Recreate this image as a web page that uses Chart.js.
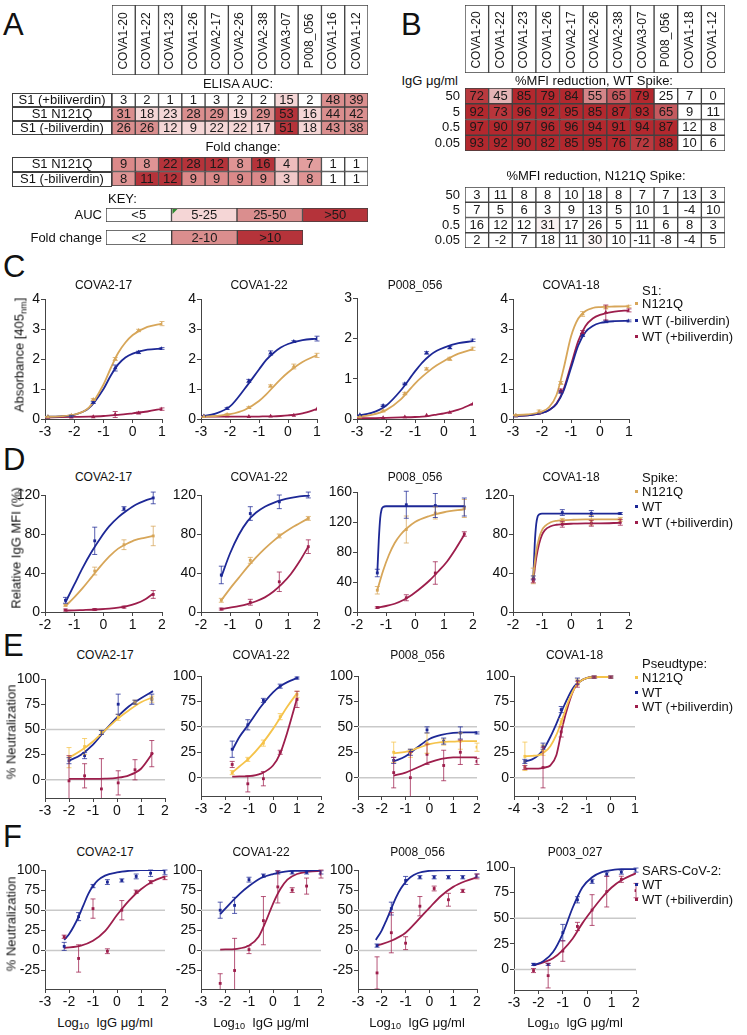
<!DOCTYPE html>
<html><head><meta charset="utf-8">
<script src="https://cdn.jsdelivr.net/npm/chart.js@4.4.1/dist/chart.umd.min.js"></script>
<style>
body{margin:0;background:#fff;}
#root{position:relative;width:747px;height:1035px;overflow:hidden;font-family:'Liberation Sans',Arial,sans-serif;color:#111;background:#fff;}
.t{position:absolute;white-space:nowrap;line-height:1;}
canvas{position:absolute;}
sub{font-size:70%;vertical-align:-0.3em;line-height:0;}
</style></head><body><div id="root"></div>
<script>
// ---------------- DATA ----------------
// Panel A
const A_antibodies = ['COVA1-20','COVA1-22','COVA1-23','COVA1-26','COVA2-17','COVA2-26','COVA2-38','COVA3-07','P008_056','COVA1-16','COVA1-12'];
const A_aucRows = ['S1 (+biliverdin)','S1 N121Q','S1 (-biliverdin)'];
const A_auc_plusBili = [3,2,1,1,3,2,2,15,2,48,39];
const A_auc_N121Q = [31,18,23,28,29,19,29,53,16,44,42];
const A_auc_minusBili = [26,26,12,9,22,22,17,51,18,43,38];
const A_foldRows = ['S1 N121Q','S1 (-biliverdin)'];
const A_fold_N121Q = [9,8,22,28,12,8,16,4,7,1,1];
const A_fold_minusBili = [8,11,12,9,9,9,9,3,8,1,1];
const A_keyAUC = ['<5','5-25','25-50','>50'];
const A_keyAUCLevel = [0,1,2,3];
const A_keyFold = ['<2','2-10','>10'];
const A_keyFoldLevel = [0,2,3];
// Panel B
const B_antibodies = ['COVA1-20','COVA1-22','COVA1-23','COVA1-26','COVA2-17','COVA2-26','COVA2-38','COVA3-07','P008_056','COVA1-18','COVA1-12'];
const B_doses = ['50','5','0.5','0.05'];
const B_WT_50 = [72,45,85,79,84,55,65,79,25,7,0];
const B_WT_5 = [92,73,96,92,95,85,87,93,65,9,11];
const B_WT_05 = [97,90,97,96,96,94,91,94,87,12,8];
const B_WT_005 = [93,92,90,82,85,95,76,72,88,10,6];
const B_N121Q_50 = [3,11,8,8,10,18,8,7,7,13,3];
const B_N121Q_5 = [7,5,6,3,9,13,5,10,1,-4,10];
const B_N121Q_05 = [16,12,12,31,17,26,5,11,6,8,3];
const B_N121Q_005 = [2,-2,7,18,11,30,10,-11,-8,-4,5];

// Panel C (ELISA, absorbance 405nm)
const C_doseX = [-2.9,-2.1,-1.35,-0.6,0.2,1.0];
const C_fitX = [-3,-2.5,-2,-1.5,-1,-0.75,-0.5,-0.25,0,0.5,1];
const C4_fitX = [-3,-2.5,-2,-1.75,-1.5,-1.25,-1,-0.75,-0.5,-0.25,0,0.5,1];
const C_xTicks = [-3,-2,-1,0,1];
const C_yTicks4 = [0,1,2,3,4];
const C_yTicks3 = [0,1,2,3];
const C1_N121Q = [0.07,0.12,0.65,2.0,2.95,3.18], C1_N121Q_err = [0,0.02,0.03,0.05,0.04,0.07];
const C1_N121Q_fit = [0.07,0.09,0.15,0.38,1.15,1.7,2.2,2.55,2.8,3.07,3.18];
const C1_WTm = [0.07,0.1,0.55,1.7,2.22,2.35], C1_WTm_err = [0,0.02,0.03,0.1,0.04,0.03];
const C1_WTm_fit = [0.07,0.09,0.14,0.36,1.0,1.45,1.82,2.05,2.18,2.31,2.35];
const C1_WTp = [0.05,0.06,0.07,0.15,0.2,0.33], C1_WTp_err = [0,0,0,0.1,0.03,0.04];
const C1_WTp_fit = [0.05,0.06,0.07,0.08,0.1,0.12,0.14,0.16,0.19,0.25,0.34];
const C2_N121Q = [0.08,0.15,0.38,1.1,1.75,2.12], C2_N121Q_err = [0,0.03,0.03,0.04,0.08,0.07];
const C2_N121Q_fit = [0.07,0.1,0.16,0.3,0.6,0.82,1.08,1.33,1.55,1.9,2.13];
const C2_WTm = [0.1,0.35,1.27,2.2,2.58,2.68], C2_WTm_err = [0,0.03,0.05,0.07,0.03,0.08];
const C2_WTm_fit = [0.08,0.18,0.42,1.0,1.65,1.97,2.2,2.38,2.5,2.63,2.68];
const C2_WTp = [0.08,0.1,0.08,0.09,0.12,0.33], C2_WTp_err = [0,0,0,0,0,0];
const C2_WTp_fit = [0.08,0.08,0.08,0.08,0.08,0.09,0.09,0.1,0.12,0.19,0.33];
const C3_N121Q = [0.05,0.2,0.63,1.24,1.49,1.74], C3_N121Q_err = [0,0.02,0.03,0.03,0.04,0.04];
const C3_N121Q_fit = [0.05,0.1,0.22,0.48,0.88,1.05,1.2,1.33,1.44,1.62,1.73];
const C3_WTm = [0.1,0.33,0.87,1.64,1.77,1.95], C3_WTm_err = [0,0.02,0.02,0.03,0.03,0.03];
const C3_WTm_fit = [0.08,0.15,0.33,0.7,1.18,1.4,1.57,1.69,1.77,1.88,1.93];
const C3_WTp = [0.02,0.03,0.05,0.09,0.16,0.37], C3_WTp_err = [0,0,0,0,0,0];
const C3_WTp_fit = [0.02,0.02,0.03,0.04,0.05,0.06,0.08,0.11,0.14,0.23,0.38];
const C4_N121Q = [0.12,0.25,1.2,3.5,3.72,3.75], C4_N121Q_err = [0,0.05,0.05,0.08,0.05,0.04];
const C4_N121Q_fit = [0.13,0.15,0.25,0.4,0.8,1.7,2.75,3.35,3.6,3.7,3.73,3.75,3.76];
const C4_WTm = [0.1,0.2,0.9,2.8,3.25,3.27], C4_WTm_err = [0,0,0.04,0.05,0.04,0.03];
const C4_WTm_fit = [0.1,0.12,0.2,0.3,0.5,0.95,1.7,2.45,2.9,3.1,3.2,3.26,3.27];
const C4_WTp = [0.1,0.2,0.95,2.9,3.55,3.62], C4_WTp_err = [0,0,0.05,0.05,0.25,0.05];
const C4_WTp_fit = [0.1,0.12,0.2,0.3,0.52,1.0,1.8,2.6,3.1,3.35,3.47,3.58,3.62];

// Panel D (relative IgG MFI %)
const D_doseX = [-1.3,-0.3,0.7,1.7];
const D_fitX = [-1.3,-1,-0.7,-0.4,-0.1,0.2,0.5,0.8,1.1,1.4,1.7];
const D_fastX = [-1.3,-1.25,-1.2,-1.15,-1.1,-1.0,-0.5,0,0.5,1,1.7];
const D3_goldX = [-1.3,-1.1,-0.9,-0.7,-0.5,-0.3,0,0.5,1,1.7];
const D4_satX = [-1.3,-1.2,-1.1,-1.0,-0.9,-0.7,-0.5,-0.3,0,0.5,1,1.7];
const D_xTicks = [-2,-1,0,1,2];
const D_yTicks = [0,40,80,120];
const D_yTicks160 = [0,40,80,120,160];
const D1_N121Q = [7,42,69,78], D1_N121Q_err = [1,4,5,10], D1_N121Q_fit = [6,15,25,36,47,57,65,70,74,76,78];
const D1_WT = [12,73,106,117], D1_WT_err = [3,14,2,6], D1_WT_fit = [10,28,46,62,76,88,97,104,110,114,117];
const D1_WTp = [2,2.5,5,18], D1_WTp_err = [1,1,1,4], D1_WTp_fit = [1.5,1.7,2,2.3,2.8,3.5,4.5,6,8.5,12.5,19];
const D2_N121Q = [12,53,78,96], D2_N121Q_err = [2,3,2,2], D2_N121Q_fit = [12,24,35,46,56,65,73,80,86,91,96];
const D2_WT = [38,101,113,120], D2_WT_err = [9,7,7,3], D2_WT_fit = [36,60,79,93,102,108,112,115,117,118.5,119.5];
const D2_WTp = [3,10,31,67], D2_WTp_err = [1,3,10,7], D2_WTp_fit = [3,4.5,6,8,11,15,21,29,39,52,67];
const D3_N121Q = [29,110,132,138], D3_N121Q_err = [5,18,8,12], D3_N121Q_fit = [29,55,76,92,103,111,120,128,133,137];
const D3_WT = [52,143,142,140], D3_WT_err = [5,18,16,12], D3_WT_fit = [52,95,125,137,140,141,141,141,141,141,141];
const D3_WTp = [6,19,52,104], D3_WTp_err = [1,4,15,3], D3_WTp_fit = [6,8,11,16,23,32,42,54,67,84,103];
const D4_N121Q = [37,94,94,95], D4_N121Q_err = [8,2,5,2], D4_N121Q_fit = [37,62,76,84,88,92,93.5,94,94.5,95,95,95];
const D4_WT = [35,102,101,101], D4_WT_err = [2,3,3,1], D4_WT_fit = [35,70,90,98,100,101,101,101,101,101,101];
const D4_WTp = [32,90,91,92], D4_WTp_err = [2,3,3,3], D4_WTp_fit = [32,55,70,79,84,88,89.5,90,90.5,91,91,91.5];

// Panel E (% neutralization, pseudotypes)
const E_xTicks = [-3,-2,-1,0,1,2];
const E4_xTicks = [-4,-3,-2,-1,0,1];
const E_yTicks = [0,25,50,75,100];
const E_refLines = [0,50];
const E1_doseX = [-2,-1.35,-0.65,0.05,0.75,1.45];
const E1_fitX = [-2,-1.5,-1,-0.5,0,0.5,1,1.5];
const E1_N121Q = [22,33,47,62,77,80], E1_N121Q_err = [10,8,2,3,2,3], E1_N121Q_fit = [22,29,38,49,60,69,77,82];
const E1_WT = [19,24,47,75,77,80], E1_WT_err = [3,3,2,10,2,5], E1_WT_fit = [19,25,35,49,62,73,81,88];
const E1_WTp = [-1,4,-9,-3,10,26], E1_WTp_err = [25,12,30,12,10,13], E1_WTp_fit = [1,1,1,1.2,2,4.5,11,27];
const E2_doseX = [-1.7,-1.05,-0.4,0.3,1.0];
const E2_fitX = [-1.7,-1.4,-1,-0.5,0,0.3,0.6,1.0];
const E2_N121Q = [5,18,34,60,82], E2_N121Q_err = [2,2,3,3,3], E2_N121Q_fit = [5,11,19,32,48,59,70,83];
const E2_WT = [28,52,76,90,98], E2_WT_err = [8,5,2,2,1], E2_WT_fit = [27,40,53,70,84,90,94,98];
const E2_WTp = [13,-6,-1,25,77], E2_WTp_err = [3,8,7,2,8], E2_WTp_fit = [1,1.2,1.5,4,12,24,45,78];
const E3_doseX = [-1.5,-0.8,-0.1,0.6,1.3,2.0];
const E3_fitX = [-1.5,-1,-0.5,0,0.5,1,1.5,2];
const E3_N121Q = [25,24,34,35,36,30], E3_N121Q_err = [10,4,10,3,8,4], E3_N121Q_fit = [24,25.5,29,33,35,35.5,36,36];
const E3_WT = [17,25,47,36,44,44], E3_WT_err = [3,3,3,3,6,1], E3_WT_fit = [16,21,30,38,42,44,44.5,44.5];
const E3_WTp = [5,0,23,12,25,16], E3_WTp_err = [15,25,10,15,12,3], E3_WTp_fit = [2,5,10,15,18.5,20,20,20];
const E4_doseX = [-3.55,-2.8,-2.05,-1.38,-0.69,0];
const E4_fitX = [-3.55,-3.25,-3,-2.75,-2.5,-2.25,-2,-1.75,-1.5,-1.25,-1,-0.5,0];
const E4_N121Q = [21,27,55,94,99,99], E4_N121Q_err = [14,5,3,3,1,1], E4_N121Q_fit = [21,21.5,22,25,31,42,58,75,88,95,98,99,99];
const E4_WT = [16,31,67,95,99,99], E4_WT_err = [2,3,3,3,1,1], E4_WT_fit = [16,18,22,29,40,53,67,80,90,95,98,99,99];
const E4_WTp = [10,10,45,92,99,99], E4_WTp_err = [2,20,5,3,1,1], E4_WTp_fit = [9,9,9,10,12,22,50,72,88,95,98,99,99];

// Panel F (% neutralization, SARS-CoV-2)
const F_doseX = [-2.2,-1.6,-1.0,-0.4,0.2,0.8,1.4,2.0];
const F_xTicks = [-3,-2,-1,0,1,2];
const F_yTicks = [-25,0,25,50,75,100];
const F4_yTicks = [0,25,50,75,100];
const F1_WT = [5,42,80,85,87,92,96,97], F1_WT_err = [5,5,2,3,2,3,4,3];
const F1_WT_fitX = [-2.2,-2,-1.8,-1.6,-1.4,-1.2,-1,-0.8,-0.5,0,0.5,1,2];
const F1_WT_fit = [13,20,30,42,56,70,80,87,93,97,99,100,100];
const F1_WTp = [17,-10,52,-1,50,73,85,90], F1_WTp_err = [2,17,12,3,12,2,2,2];
const F1_WTp_fitX = [-2.2,-1.5,-1,-0.5,0,0.5,1,1.5,2];
const F1_WTp_fit = [3,6,12,24,44,62,76,86,92];
const F2_WT = [50,56,88,93,97,97,97,97], F2_WT_err = [10,10,3,2,2,2,2,2];
const F2_WT_fitX = [-2.2,-1.8,-1.4,-1,-0.5,0,0.5,1,2];
const F2_WT_fit = [45,58,70,80,90,95,98,99,100];
const F2_WTp = [-41,-25,1,37,79,75,80,95], F2_WTp_err = [12,40,5,30,20,3,10,5];
const F2_WTp_fitX = [-2.2,-1.5,-1,-0.6,-0.3,0,0.3,0.6,1,1.5,2];
const F2_WTp_fit = [1,2,6,17,36,58,76,88,95,98,99];
const F3_WT = [6,52,87,91,91,91,91,93], F3_WT_err = [2,8,5,2,2,2,2,2];
const F3_WT_fitX = [-2.25,-2,-1.8,-1.6,-1.4,-1.2,-1,-0.8,-0.5,0,1,2];
const F3_WT_fit = [13,25,38,52,66,77,85,91,96,99,100,100];
const F3_WTp = [-28,22,9,55,77,63,74,92], F3_WTp_err = [20,25,8,12,3,8,2,3];
const F3_WTp_fitX = [-2.2,-1.6,-1,-0.5,0,0.5,1,1.5,2];
const F3_WTp_fit = [6,12,22,37,53,68,79,86,91];
const F4_WT = [5,5,36,68,86,93,95,97], F4_WT_err = [1,1,8,3,2,2,2,2];
const F4_fitX = [-2.2,-1.8,-1.4,-1,-0.6,-0.2,0.2,0.6,1,1.4,2];
const F4_WT_fit = [4,8,17,35,60,80,90,95,97,98,98];
const F4_WTp = [-1,-6,18,42,58,76,88,77], F4_WTp_err = [2,12,10,4,15,15,3,7];
const F4_WTp_fit = [4,7,11,19,30,45,58,70,80,87,94];

// ---------------- STYLE ----------------
const BLUE='#1d2896', GOLD='#d7a659', YEL='#f5c34a', RED='#9d1e4c';
const FONT="'Liberation Sans', Arial, sans-serif";
Chart.defaults.font.family = FONT;
const root = document.getElementById('root');

function makeCanvas(l,t,w,h){
  const c=document.createElement('canvas');
  c.width=Math.round(w); c.height=Math.round(h);
  c.style.left=Math.round(l)+'px'; c.style.top=Math.round(t)+'px';
  c.style.width=Math.round(w)+'px'; c.style.height=Math.round(h)+'px';
  root.appendChild(c); return c;
}
function txt(html,x,y,size,anchor,extra){
  const d=document.createElement('div'); d.className='t'; d.innerHTML=html;
  d.style.left=x+'px'; d.style.top=y+'px'; d.style.fontSize=size+'px';
  const tx = anchor==='c'?'-50%':anchor==='r'?'-100%':'0';
  d.style.transform='translate('+tx+',-50%)'+(extra||'');
  root.appendChild(d); return d;
}
function vtxt(html,x,y,size){
  const d=document.createElement('div'); d.className='t'; d.innerHTML=html;
  d.style.left=x+'px'; d.style.top=y+'px'; d.style.fontSize=size+'px';
  d.style.transform='translate(-50%,-50%) rotate(-90deg)';
  root.appendChild(d); return d;
}

// ---------- heat tables ----------
function mix(a,b,t){
  const pa=[parseInt(a.slice(1,3),16),parseInt(a.slice(3,5),16),parseInt(a.slice(5,7),16)];
  const pb=[parseInt(b.slice(1,3),16),parseInt(b.slice(3,5),16),parseInt(b.slice(5,7),16)];
  t=Math.max(0,Math.min(1,t));
  return 'rgb('+pa.map((v,i)=>Math.round(v+(pb[i]-v)*t)).join(',')+')';
}
const LVL=['#ffffff','#f5d6d6','#da8e8e','#b5333a'];
const aucColor = v => v<5?LVL[0]:v<25?LVL[1]:v<50?LVL[2]:LVL[3];
const foldColor = v => v<2?'#ffffff':v>10?LVL[3]:mix('#f5d2d2','#d77f7f',(v-2)/8);
const mfiColor = v => v<=28?'#ffffff':mix('#ffffff','#b3282e',(v-28)/48);

function heatBlock(rect, cols, rowLabels, rows, colorFn, o){
  o=o||{};
  const [l,t,r,b]=rect; const padL=o.labelW||0;
  const cv=makeCanvas(l-padL-1,t-1,r-l+padL+2,b-t+2);
  const n=rows.length;
  const datasets=rows.map((row,ri)=>({
    data: row.map(()=>[ri,ri+1]),
    backgroundColor: row.map(colorFn),
    borderColor:'#404040', borderWidth:1, borderSkipped:false,
    barPercentage:1, categoryPercentage:1, grouped:false
  }));
  const textPlugin={id:'celltext',afterDatasetsDraw(chart){
    const ctx=chart.ctx, xs=chart.scales.x, ys=chart.scales.y, ca=chart.chartArea;
    ctx.save(); ctx.fillStyle='#1a1a1a'; ctx.textAlign='center'; ctx.textBaseline='middle';
    rows.forEach((row,ri)=>row.forEach((v,ci)=>{
      const px=xs.getPixelForValue(ci), py=ys.getPixelForValue(ri+0.5);
      if(o.rotate){
        ctx.save(); ctx.font='12px '+FONT; ctx.translate(px,py+1); ctx.rotate(-Math.PI/2);
        ctx.fillText(cols[ci],0,0); ctx.restore();
      } else {
        ctx.font=(o.fontSize||13)+'px '+FONT;
        const s=o.textFn?o.textFn(ci,v):String(v);
        ctx.fillStyle = o.darkText && colorFn(v)===LVL[3] ? '#3a0b0e' : '#1a1a1a';
        ctx.fillText(s,px,py+0.5);
      }
    }));
    if(rowLabels){
      rowLabels.forEach((lab,ri)=>{
        const y0=ys.getPixelForValue(ri), y1=ys.getPixelForValue(ri+1);
        ctx.font='13px '+FONT; ctx.fillStyle='#111';
        if(o.labelBox){
          ctx.strokeStyle='#404040'; ctx.lineWidth=1;
          ctx.strokeRect(Math.round(ca.left-padL)+0.5,Math.round(y0)+0.5,Math.round(padL)-1,Math.round(y1-y0)-1);
          ctx.textAlign='center'; ctx.fillText(lab,ca.left-padL/2,(y0+y1)/2+0.5);
        } else {
          ctx.textAlign='right'; ctx.fillText(lab,ca.left-(o.labelGap||5),(y0+y1)/2+0.5);
        }
      });
    }
    if(o.flag){ // small green comment flag
      const px=xs.getPixelForValue(o.flag)-xs.getPixelForValue(0)/1;
      const x0=ca.left+ (ca.right-ca.left)/cols.length*o.flag+1, y0=ca.top+1;
      ctx.fillStyle='#2f8a2f'; ctx.beginPath(); ctx.moveTo(x0,y0); ctx.lineTo(x0+5,y0); ctx.lineTo(x0,y0+5); ctx.fill();
    }
    ctx.restore();
  }};
  new Chart(cv,{type:'bar',data:{labels:cols,datasets},
    options:{responsive:false,animation:false,devicePixelRatio:1,
      layout:{padding:{left:padL+1,top:1,right:1,bottom:1}},
      plugins:{legend:{display:false},tooltip:{enabled:false}},
      scales:{x:{display:false,offset:true},y:{display:false,min:0,max:n,reverse:true}}},
    plugins:[textPlugin]});
}

// ---------- line plots ----------
const errPlugin={id:'errbars',afterDatasetsDraw(chart){
  const {ctx,chartArea:ca}=chart, xs=chart.scales.x, ys=chart.scales.y;
  ctx.save(); ctx.beginPath(); ctx.rect(ca.left,ca.top-6,ca.right-ca.left+6,ca.bottom-ca.top+6); ctx.clip();
  chart.data.datasets.forEach(ds=>{
    if(!ds.errors) return;
    ctx.strokeStyle=ds.borderColor; ctx.globalAlpha=0.75; ctx.lineWidth=1;
    ds.data.forEach((p,j)=>{
      const e=ds.errors[j]; if(!e) return;
      const px=xs.getPixelForValue(p.x), y1=ys.getPixelForValue(p.y-e), y2=ys.getPixelForValue(p.y+e);
      ctx.beginPath(); ctx.moveTo(px,y1); ctx.lineTo(px,y2);
      ctx.moveTo(px-2.5,y1); ctx.lineTo(px+2.5,y1); ctx.moveTo(px-2.5,y2); ctx.lineTo(px+2.5,y2); ctx.stroke();
    });
  });
  ctx.restore();
}};
const refPlugin={id:'reflines',beforeDatasetsDraw(chart,args,opts){
  const vals=(opts&&opts.values)||[]; if(!vals.length) return;
  const {ctx,chartArea:ca}=chart, ys=chart.scales.y;
  ctx.save(); ctx.strokeStyle='#c9c9c9'; ctx.lineWidth=1.5;
  vals.forEach(v=>{const py=ys.getPixelForValue(v); ctx.beginPath(); ctx.moveTo(ca.left,py); ctx.lineTo(ca.right,py); ctx.stroke();});
  ctx.restore();
}};

function S(color,shape,ptX,ptY,err,fitX,fitY){return {color,shape,ptX,ptY,err,fitX,fitY};}
function plot(o){
  const PL=36,PT=10,PR=14,PB=24;
  const [l,t,r,b]=o.rect;
  const cv=makeCanvas(l-PL,t-PT,r-l+PL+PR,b-t+PT+PB);
  const datasets=[];
  o.series.forEach(s=>{
    datasets.push({type:'line',data:s.fitX.map((xv,i)=>({x:xv,y:s.fitY[i]})),borderColor:s.color,borderWidth:1.8,
      pointRadius:0,cubicInterpolationMode:'monotone',fill:false,order:2});
    datasets.push({type:'scatter',data:s.ptX.map((xv,i)=>({x:xv,y:s.ptY[i]})),errors:s.err,backgroundColor:s.color,
      borderColor:s.color,borderWidth:0,pointRadius:s.shape==='triangle'?2.6:2,pointStyle:s.shape||'rect',showLine:false,order:1});
  });
  const axis=(ticks,isX)=>({
    type:'linear',min:(isX?o.x:o.y)[0],max:(isX?o.x:o.y)[1],
    afterFit(s){ if(isX) s.height=PB; else s.width=PL; },
    afterBuildTicks(s){ s.ticks=ticks.map(v=>({value:v})); },
    grid:{drawOnChartArea:false,drawTicks:true,tickLength:4,color:'#444',lineWidth:1},
    border:{display:true,color:'#444',width:1},
    ticks:{font:{size:14},color:'#111',padding:1,maxRotation:0,autoSkip:false,includeBounds:false}
  });
  new Chart(cv,{type:'scatter',data:{datasets},
    options:{responsive:false,animation:false,devicePixelRatio:1,
      layout:{padding:{left:0,top:PT,right:PR,bottom:0}},
      plugins:{legend:{display:false},tooltip:{enabled:false},reflines:{values:o.ref||[]}},
      scales:{x:axis(o.xTicks,true),y:axis(o.yTicks,false)}},
    plugins:[refPlugin,errPlugin]});
  if(o.title) txt(o.title,(l+r)/2,o.titleY,12,'c');
}

// ---------------- BUILD ----------------
// Panel letters
txt('A',3,24,31,'l'); txt('B',401,24,31,'l'); txt('C',3,266,31,'l');
txt('D',3,459,31,'l'); txt('E',3,645,31,'l'); txt('F',3,836,31,'l');

// Panel A
heatBlock([112,5,368,75],A_antibodies,null,[A_antibodies.map(()=>0)],()=>'#ffffff',{rotate:true});
txt('ELISA AUC:',238,83,13,'c');
heatBlock([112,93,368,135],A_antibodies,A_aucRows,[A_auc_plusBili,A_auc_N121Q,A_auc_minusBili],aucColor,{labelW:100,labelBox:true});
txt('Fold change:',243,146,13,'c');
heatBlock([112,157,368,186],A_antibodies,A_foldRows,[A_fold_N121Q,A_fold_minusBili],foldColor,{labelW:100,labelBox:true});
txt('KEY:',108,198,13,'l');
heatBlock([106,208,368,222],A_keyAUC,['AUC'],[A_keyAUCLevel],v=>LVL[v],{labelW:40,labelGap:4,textFn:(ci)=>A_keyAUC[ci],flag:1});
heatBlock([106,230,303,245],A_keyFold,['Fold change'],[A_keyFoldLevel],v=>LVL[v],{labelW:90,labelGap:4,textFn:(ci)=>A_keyFold[ci]});

// Panel B
heatBlock([465,5,725,73],B_antibodies,null,[B_antibodies.map(()=>0)],()=>'#ffffff',{rotate:true});
txt('IgG μg/ml',458,80,13,'r');
txt('%MFI reduction, WT Spike:',594,80,13,'c');
heatBlock([465,88,725,151],B_antibodies,B_doses,[B_WT_50,B_WT_5,B_WT_05,B_WT_005],mfiColor,{labelW:60,labelGap:5});
txt('%MFI reduction, N121Q Spike:',596,175,13,'c');
heatBlock([465,187,725,248],B_antibodies,B_doses,[B_N121Q_50,B_N121Q_5,B_N121Q_05,B_N121Q_005],mfiColor,{labelW:60,labelGap:5});

// Panel C
plot({rect:[45,299,162,419],x:[-3,1],y:[0,4],xTicks:C_xTicks,yTicks:C_yTicks4,title:'COVA2-17',titleY:285,series:[
  S(GOLD,'triangle',C_doseX,C1_N121Q,C1_N121Q_err,C_fitX,C1_N121Q_fit),
  S(BLUE,'triangle',C_doseX,C1_WTm,C1_WTm_err,C_fitX,C1_WTm_fit),
  S(RED,'triangle',C_doseX,C1_WTp,C1_WTp_err,C_fitX,C1_WTp_fit)]});
plot({rect:[201,299,317,419],x:[-3,1],y:[0,4],xTicks:C_xTicks,yTicks:C_yTicks4,title:'COVA1-22',titleY:285,series:[
  S(GOLD,'triangle',C_doseX,C2_N121Q,C2_N121Q_err,C_fitX,C2_N121Q_fit),
  S(BLUE,'triangle',C_doseX,C2_WTm,C2_WTm_err,C_fitX,C2_WTm_fit),
  S(RED,'triangle',C_doseX,C2_WTp,C2_WTp_err,C_fitX,C2_WTp_fit)]});
plot({rect:[357,298,473,419],x:[-3,1],y:[0,3],xTicks:C_xTicks,yTicks:C_yTicks3,title:'P008_056',titleY:285,series:[
  S(GOLD,'triangle',C_doseX,C3_N121Q,C3_N121Q_err,C_fitX,C3_N121Q_fit),
  S(BLUE,'triangle',C_doseX,C3_WTm,C3_WTm_err,C_fitX,C3_WTm_fit),
  S(RED,'triangle',C_doseX,C3_WTp,C3_WTp_err,C_fitX,C3_WTp_fit)]});
plot({rect:[513,299,629,419],x:[-3,1],y:[0,4],xTicks:C_xTicks,yTicks:C_yTicks4,title:'COVA1-18',titleY:285,series:[
  S(GOLD,'triangle',C_doseX,C4_N121Q,C4_N121Q_err,C4_fitX,C4_N121Q_fit),
  S(BLUE,'triangle',C_doseX,C4_WTm,C4_WTm_err,C4_fitX,C4_WTm_fit),
  S(RED,'triangle',C_doseX,C4_WTp,C4_WTp_err,C4_fitX,C4_WTp_fit)]});
vtxt('Absorbance [405<sub>nm</sub>]',19,355,13);

// Panel D
plot({rect:[45,495,162,612],x:[-2,2],y:[0,120],xTicks:D_xTicks,yTicks:D_yTicks,title:'COVA2-17',titleY:477,series:[
  S(GOLD,'rect',D_doseX,D1_N121Q,D1_N121Q_err,D_fitX,D1_N121Q_fit),
  S(BLUE,'rect',D_doseX,D1_WT,D1_WT_err,D_fitX,D1_WT_fit),
  S(RED,'rect',D_doseX,D1_WTp,D1_WTp_err,D_fitX,D1_WTp_fit)]});
plot({rect:[201,495,317,612],x:[-2,2],y:[0,120],xTicks:D_xTicks,yTicks:D_yTicks,title:'COVA1-22',titleY:477,series:[
  S(GOLD,'rect',D_doseX,D2_N121Q,D2_N121Q_err,D_fitX,D2_N121Q_fit),
  S(BLUE,'rect',D_doseX,D2_WT,D2_WT_err,D_fitX,D2_WT_fit),
  S(RED,'rect',D_doseX,D2_WTp,D2_WTp_err,D_fitX,D2_WTp_fit)]});
plot({rect:[357,492,473,612],x:[-2,2],y:[0,160],xTicks:D_xTicks,yTicks:D_yTicks160,title:'P008_056',titleY:477,series:[
  S(GOLD,'rect',D_doseX,D3_N121Q,D3_N121Q_err,D3_goldX,D3_N121Q_fit),
  S(BLUE,'rect',D_doseX,D3_WT,D3_WT_err,D_fastX,D3_WT_fit),
  S(RED,'rect',D_doseX,D3_WTp,D3_WTp_err,D_fitX,D3_WTp_fit)]});
plot({rect:[513,495,629,612],x:[-2,2],y:[0,120],xTicks:D_xTicks,yTicks:D_yTicks,title:'COVA1-18',titleY:477,series:[
  S(GOLD,'rect',D_doseX,D4_N121Q,D4_N121Q_err,D4_satX,D4_N121Q_fit),
  S(BLUE,'rect',D_doseX,D4_WT,D4_WT_err,D_fastX,D4_WT_fit),
  S(RED,'rect',D_doseX,D4_WTp,D4_WTp_err,D4_satX,D4_WTp_fit)]});
vtxt('Relative IgG MFI (%)',16,548,13);

// Panel E
plot({rect:[45,679,165,798],x:[-3,2],y:[-18,100],xTicks:E_xTicks,yTicks:E_yTicks,ref:E_refLines,title:'COVA2-17',titleY:655,series:[
  S(YEL,'rect',E1_doseX,E1_N121Q,E1_N121Q_err,E1_fitX,E1_N121Q_fit),
  S(BLUE,'rect',E1_doseX,E1_WT,E1_WT_err,E1_fitX,E1_WT_fit),
  S(RED,'rect',E1_doseX,E1_WTp,E1_WTp_err,E1_fitX,E1_WTp_fit)]});
plot({rect:[201,676,321,796],x:[-3,2],y:[-18,100],xTicks:E_xTicks,yTicks:E_yTicks,ref:E_refLines,title:'COVA1-22',titleY:655,series:[
  S(YEL,'rect',E2_doseX,E2_N121Q,E2_N121Q_err,E2_fitX,E2_N121Q_fit),
  S(BLUE,'rect',E2_doseX,E2_WT,E2_WT_err,E2_fitX,E2_WT_fit),
  S(RED,'rect',E2_doseX,E2_WTp,E2_WTp_err,E2_fitX,E2_WTp_fit)]});
plot({rect:[358,676,477,796],x:[-3,2],y:[-18,100],xTicks:E_xTicks,yTicks:E_yTicks,ref:E_refLines,title:'P008_056',titleY:655,series:[
  S(YEL,'rect',E3_doseX,E3_N121Q,E3_N121Q_err,E3_fitX,E3_N121Q_fit),
  S(BLUE,'rect',E3_doseX,E3_WT,E3_WT_err,E3_fitX,E3_WT_fit),
  S(RED,'rect',E3_doseX,E3_WTp,E3_WTp_err,E3_fitX,E3_WTp_fit)]});
plot({rect:[514,676,635,796],x:[-4,1],y:[-18,100],xTicks:E4_xTicks,yTicks:E_yTicks,ref:E_refLines,title:'COVA1-18',titleY:655,series:[
  S(YEL,'rect',E4_doseX,E4_N121Q,E4_N121Q_err,E4_fitX,E4_N121Q_fit),
  S(BLUE,'rect',E4_doseX,E4_WT,E4_WT_err,E4_fitX,E4_WT_fit),
  S(RED,'rect',E4_doseX,E4_WTp,E4_WTp_err,E4_fitX,E4_WTp_fit)]});
vtxt('% Neutralization',11,732,13);

// Panel F
plot({rect:[45,870,165,989],x:[-3,2],y:[-48,100],xTicks:F_xTicks,yTicks:F_yTicks,ref:E_refLines,title:'COVA2-17',titleY:852,series:[
  S(BLUE,'rect',F_doseX,F1_WT,F1_WT_err,F1_WT_fitX,F1_WT_fit),
  S(RED,'rect',F_doseX,F1_WTp,F1_WTp_err,F1_WTp_fitX,F1_WTp_fit)]});
plot({rect:[201,870,321,989],x:[-3,2],y:[-48,100],xTicks:F_xTicks,yTicks:F_yTicks,ref:E_refLines,title:'COVA1-22',titleY:852,series:[
  S(BLUE,'rect',F_doseX,F2_WT,F2_WT_err,F2_WT_fitX,F2_WT_fit),
  S(RED,'rect',F_doseX,F2_WTp,F2_WTp_err,F2_WTp_fitX,F2_WTp_fit)]});
plot({rect:[358,870,477,989],x:[-3,2],y:[-48,100],xTicks:F_xTicks,yTicks:F_yTicks,ref:E_refLines,title:'P008_056',titleY:852,series:[
  S(BLUE,'rect',F_doseX,F3_WT,F3_WT_err,F3_WT_fitX,F3_WT_fit),
  S(RED,'rect',F_doseX,F3_WTp,F3_WTp_err,F3_WTp_fitX,F3_WTp_fit)]});
plot({rect:[514,867,636,990],x:[-3,2],y:[-20,100],xTicks:F_xTicks,yTicks:F4_yTicks,ref:E_refLines,title:'P003_027',titleY:852,series:[
  S(BLUE,'rect',F_doseX,F4_WT,F4_WT_err,F4_fitX,F4_WT_fit),
  S(RED,'rect',F_doseX,F4_WTp,F4_WTp_err,F4_fitX,F4_WTp_fit)]});
vtxt('% Neutralization',11,924,13);
[105,261,417,575].forEach(cx=>txt('Log<sub>10</sub>&nbsp; IgG μg/ml',cx,1022,13,'c'));

// Legends
function legend(x,y0,title,items){
  txt(title,x+6,y0,13,'l');
  items.forEach(it=>{
    const m=document.createElement('div'); m.style.position='absolute';
    m.style.left=(x-1)+'px'; m.style.top=(it[2]-1.5)+'px'; m.style.width='3px'; m.style.height='3px'; m.style.background=it[1];
    root.appendChild(m);
    txt(it[0],x+6,it[2],13,'l');
  });
}
legend(636,290,'S1:',[['N121Q',GOLD,303],['WT (-biliverdin)',BLUE,320],['WT (+biliverdin)',RED,336]]);
legend(636,477,'Spike:',[['N121Q',GOLD,491],['WT',BLUE,506],['WT (+biliverdin)',RED,522]]);
legend(636,663,'Pseudtype:',[['N121Q',YEL,677],['WT',BLUE,692],['WT (+biliverdin)',RED,706]]);
legend(636,870,'SARS-CoV-2:',[['WT',BLUE,884],['WT (+biliverdin)',RED,899]]);
</script></body></html>
